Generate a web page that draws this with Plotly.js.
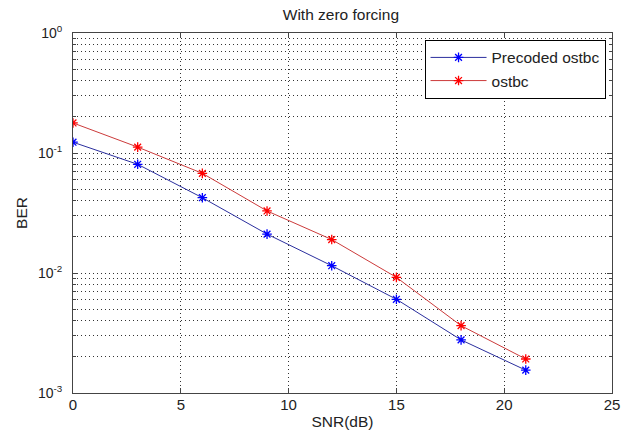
<!DOCTYPE html>
<html><head><meta charset="utf-8">
<script src="https://cdn.plot.ly/plotly-3.0.1.min.js"></script>
<style>html,body{margin:0;padding:0;background:#fff}#c{width:629px;height:430px}</style>
</head><body><div id="c"></div>
<script>
const snr = [0, 3, 6, 9, 12, 15, 18, 21];
const berPrecoded = [0.123, 0.0805, 0.0424, 0.0211, 0.0115, 0.00604, 0.00277, 0.00155];
const berOstbc = [0.178, 0.112, 0.0677, 0.0329, 0.019, 0.0092, 0.00364, 0.00192];
const seriesNames = ['Precoded ostbc', 'ostbc'];
const xTicks = [0, 5, 10, 15, 20, 25];
const decades = [-3, -2, -1, 0];
const decadeLabels = ['10<sup>-3</sup>', '10<sup>-2</sup>', '10<sup>-1</sup>', '10<sup>0</sup>'];

const yMajor = decades.map(d => Math.pow(10, d));
const yMinor = [];
decades.forEach(d => { if (d < 0) for (let m = 2; m <= 9; m++) yMinor.push(m * Math.pow(10, d)); });

const font = {family: 'Liberation Sans, Arial, sans-serif', color: '#222'};
const f = s => Object.assign({size: s}, font);
const gridDash = '1px,3px';
const traces = [
  {x: snr, y: berPrecoded, name: seriesNames[0], mode: 'lines+markers',
   line: {color: '#2b2f9e', width: 1}, marker: {symbol: 'asterisk-open', size: 8, color: '#0000ff', line: {width: 1.3, color: '#0000ff'}}},
  {x: snr, y: berOstbc, name: seriesNames[1], mode: 'lines+markers',
   line: {color: '#cc3b3b', width: 1}, marker: {symbol: 'asterisk-open', size: 8, color: '#ff0000', line: {width: 1.3, color: '#ff0000'}}}
];
const layout = {
  width: 629, height: 430,
  margin: {l: 73, r: 17, t: 33, b: 37},
  paper_bgcolor: '#fff', plot_bgcolor: '#fff',
  font: f(15),
  title: {text: 'With zero forcing', x: 0.542, xanchor: 'center', y: 0.965, yanchor: 'middle', font: f(15.5)},
  showlegend: true,
  legend: {x: 0.988, xanchor: 'right', y: 0.981, yanchor: 'top', bgcolor: '#fff', bordercolor: '#000', borderwidth: 1,
           font: f(15.5), tracegroupgap: 0, itemwidth: 56},
  xaxis: {range: [0, 25], tickvals: xTicks, ticktext: xTicks.map(String), showgrid: true, gridcolor: '#333', griddash: gridDash, gridwidth: 1,
          zeroline: false, showline: true, linecolor: '#444', linewidth: 1, mirror: 'allticks', ticks: 'inside', ticklen: 5, tickcolor: '#444',
          tickfont: f(15), ticklabelstandoff: -2,
          title: {text: 'SNR(dB)', font: f(15.5), standoff: 6}},
  yaxis: {type: 'log', range: [-3, 0], tickvals: yMajor, ticktext: decadeLabels, showgrid: true, gridcolor: '#333', griddash: gridDash, gridwidth: 1,
          zeroline: false, showline: true, linecolor: '#444', linewidth: 1, mirror: 'allticks', ticks: 'inside', ticklen: 5, tickcolor: '#444',
          tickfont: f(14), ticklabelstandoff: 7,
          minor: {tickvals: yMinor, showgrid: true, gridcolor: '#333', griddash: gridDash, gridwidth: 1, ticks: 'inside', ticklen: 3, tickcolor: '#444'},
          title: {text: 'BER', font: f(15.5), standoff: 6}}
};
Plotly.newPlot('c', traces, layout, {displayModeBar: false, staticPlot: true});
</script></body></html>
